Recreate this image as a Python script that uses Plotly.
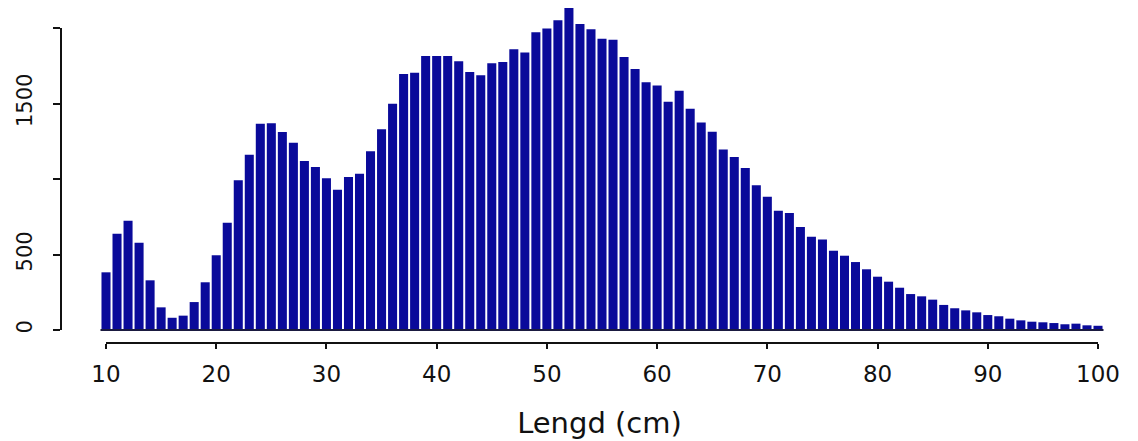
import plotly.graph_objects as go

# Length classes (cm) and counts
lengths = list(range(10, 101))
counts = [
    382, 638, 724, 578, 329, 150, 81, 95, 185, 316,      # 10-19
    495, 711, 991, 1161, 1366, 1369, 1311, 1240, 1119, 1079,  # 20-29
    1005, 929, 1013, 1035, 1183, 1329, 1499, 1695, 1704, 1815,  # 30-39
    1815, 1815, 1779, 1709, 1687, 1766, 1775, 1859, 1837, 1972,  # 40-49
    1997, 2051, 2132, 2026, 1991, 1929, 1923, 1808, 1728, 1640,  # 50-59
    1620, 1512, 1585, 1466, 1375, 1313, 1196, 1146, 1073, 958,  # 60-69
    883, 790, 775, 682, 618, 600, 525, 492, 450, 402,      # 70-79
    353, 320, 280, 238, 223, 201, 166, 144, 130, 117,      # 80-89
    99, 91, 75, 64, 55, 51, 46, 38, 42, 31,                # 90-99
    28,                                                    # 100
]

x_tickvals = [10, 20, 30, 40, 50, 60, 70, 80, 90, 100]
x_ticktext = ["10", "20", "30", "40", "50", "60", "70", "80", "90", "100"]
y_tickvals = [0, 500, 1000, 1500, 2000]
y_ticktext = ["0", "500", "", "1500", ""]
x_title = "Lengd (cm)"

BAR_COLOR = "#0a0a9a"
AXIS_COLOR = "#111111"
TEXT_COLOR = "#111111"
FONT = "DejaVu Sans"

fig = go.Figure()
fig.add_trace(go.Bar(
    x=lengths,
    y=counts,
    marker=dict(color=BAR_COLOR, line=dict(width=0)),
    showlegend=False,
    hoverinfo="x+y",
))

# Plot-area geometry in pixels (reference): left 61, right 1138, top 5, bottom 343
W, H = 1138, 441
L, R, T, B = 61, 0, 5, 98
px_per_cm = (1098 - 106) / 90.0
px_per_unit = (330 - 28) / 2000.0
x_lo = 10 - (106 - L) / px_per_cm
x_hi = 100 + (W - R - 1098) / px_per_cm
y_lo = -(H - B - 330) / px_per_unit
y_hi = (330 - T) / px_per_unit

fig.update_layout(
    width=W, height=H,
    margin=dict(l=L, r=R, t=T, b=B, pad=0),
    paper_bgcolor="white",
    plot_bgcolor="white",
    bargap=0.18,
    font=dict(family=FONT, color=TEXT_COLOR),
    xaxis=dict(
        range=[x_lo, x_hi],
        tickmode="array",
        tickvals=x_tickvals,
        ticktext=x_ticktext,
        ticks="outside",
        ticklen=5,
        tickwidth=2,
        tickcolor=AXIS_COLOR,
        tickfont=dict(family=FONT, size=23, color=TEXT_COLOR),
        ticklabelstandoff=5,
        showgrid=False,
        zeroline=False,
        showline=False,
        automargin=False,
        title=dict(text=x_title, font=dict(family=FONT, size=29, color=TEXT_COLOR), standoff=27),
    ),
    yaxis=dict(
        range=[y_lo, y_hi],
        tickmode="array",
        tickvals=y_tickvals,
        ticktext=y_ticktext,
        ticks="outside",
        ticklen=7,
        tickwidth=2,
        tickcolor=AXIS_COLOR,
        tickangle=-90,
        tickfont=dict(family=FONT, size=21, color=TEXT_COLOR),
        ticklabelstandoff=13,
        showgrid=False,
        zeroline=False,
        showline=False,
        automargin=False,
    ),
)

# R-style axis lines spanning only the tick range, plus the bar baseline
fig.add_shape(type="line", xref="x", yref="paper",
              x0=min(x_tickvals), x1=max(x_tickvals), y0=0, y1=0,
              line=dict(color=AXIS_COLOR, width=2), layer="above")
fig.add_shape(type="line", xref="paper", yref="y",
              x0=0, x1=0, y0=min(y_tickvals), y1=max(y_tickvals),
              line=dict(color=AXIS_COLOR, width=2), layer="above")
fig.add_shape(type="line", xref="x", yref="y",
              x0=min(lengths) - 0.5, x1=max(lengths) + 0.5, y0=0, y1=0,
              line=dict(color="#1a1a40", width=2), layer="above")

fig.write_html(
    "out.html",
    config={"displayModeBar": False},
    post_script="document.body.style.margin='0';document.body.style.overflow='hidden';",
)
